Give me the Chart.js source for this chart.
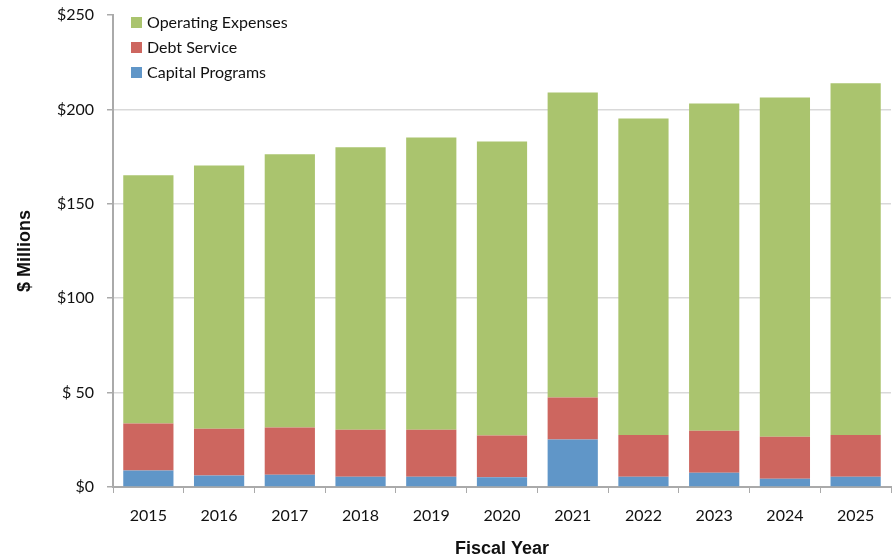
<!DOCTYPE html>
<html>
<head>
<meta charset="utf-8">
<script src="https://cdn.jsdelivr.net/npm/chart.js@4"></script>
<style>
  html, body { margin: 0; padding: 0; background: #fff; }
  #wrap { width: 894px; height: 560px; }
</style>
</head>
<body>
<div id="wrap"><canvas id="budgetChart" width="894" height="560"></canvas></div>
<script>
// Años fiscales
const years = ['2015', '2016', '2017', '2018', '2019', '2020', '2021', '2022', '2023', '2024', '2025'];

// Valores por serie ($ millones)
const capitalPrograms = [8.8, 6.1, 6.5, 5.4, 5.4, 5.1, 25.2, 5.4, 7.6, 4.4, 5.4];
const debtService = [24.8, 24.7, 25.0, 24.9, 24.9, 22.2, 22.2, 22.2, 22.2, 22.2, 22.2];
const operatingExpenses = [131.5, 139.5, 144.7, 149.6, 154.8, 155.7, 161.5, 167.6, 173.3, 179.7, 186.2];

// Etiquetas del eje Y
const yTickLabels = { 0: '$0', 50: '$ 50', 100: '$100', 150: '$150', 200: '$200', 250: '$250' };

const tickFont = { family: 'Lato, "Open Sans", sans-serif', size: 16 };
const titleFont = { family: '"Liberation Sans", Arial, sans-serif', size: 18, weight: 'bold' };

// Leyenda dibujada a mano dentro del área del gráfico
const insideLegend = {
    id: 'insideLegend',
    afterDraw(chart) {
        const ctx = chart.ctx;
        const items = chart.data.datasets.slice().reverse();
        ctx.save();
        ctx.font = '16px Lato, "Open Sans", sans-serif';
        ctx.textBaseline = 'middle';
        items.forEach((ds, i) => {
            const y = 23 + i * 25;
            ctx.fillStyle = ds.backgroundColor;
            ctx.fillRect(131, y - 6, 11, 11);
            ctx.fillStyle = '#111';
            ctx.fillText(ds.label, 147, y);
        });
        ctx.restore();
    }
};

const ctx = document.getElementById('budgetChart').getContext('2d');
new Chart(ctx, {
    type: 'bar',
    data: {
        labels: years,
        datasets: [
            { label: 'Capital Programs', data: capitalPrograms, backgroundColor: 'rgb(96, 150, 200)' },
            { label: 'Debt Service', data: debtService, backgroundColor: 'rgb(205, 102, 95)' },
            { label: 'Operating Expenses', data: operatingExpenses, backgroundColor: 'rgb(170, 196, 110)' }
        ]
    },
    options: {
        responsive: false,
        animation: false,
        layout: { padding: { top: 15, right: 3, left: 0, bottom: 0 } },
        datasets: { bar: { categoryPercentage: 0.71, barPercentage: 1.0, borderWidth: 0 } },
        plugins: { legend: { display: false }, tooltip: { enabled: false } },
        scales: {
            x: {
                stacked: true,
                afterFit(scale) { scale.height = 73; },
                grid: { offset: true, drawOnChartArea: false, drawTicks: true, tickLength: 6, tickColor: '#aaa' },
                border: { color: '#aaa', width: 2 },
                ticks: { font: tickFont, color: '#111', padding: 13, maxRotation: 0 },
                title: { display: true, text: 'Fiscal Year', font: titleFont, color: '#111', padding: { top: 14, bottom: 0 } }
            },
            y: {
                stacked: true,
                min: 0,
                max: 250,
                afterFit(scale) {
                    scale.width = 113;
                    scale.paddingTop = 0;
                },
                grid: {
                    color: c => (c.tick && (c.tick.value === 250 || c.tick.value === 0)) ? 'rgba(0,0,0,0)' : '#d9d9d9',
                    lineWidth: 1.5,
                    tickLength: 6,
                    tickColor: '#aaa'
                },
                border: { color: '#aaa', width: 2 },
                ticks: {
                    stepSize: 50,
                    font: tickFont,
                    color: '#111',
                    padding: 13,
                    callback: v => yTickLabels[v]
                },
                title: { display: true, text: '$ Millions', font: titleFont, color: '#111', padding: { top: 14, bottom: 10 } }
            }
        }
    },
    plugins: [insideLegend]
});
</script>
</body>
</html>
